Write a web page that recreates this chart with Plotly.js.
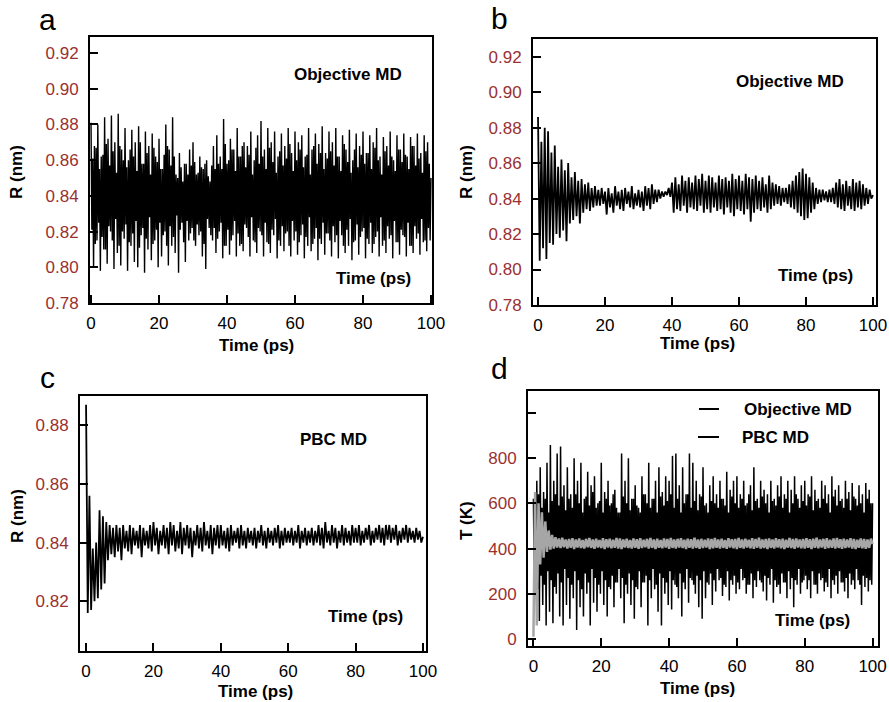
<!DOCTYPE html>
<html>
<head>
<meta charset="utf-8">
<script src="https://cdn.plot.ly/plotly-3.0.1.min.js"></script>
<style>html,body{margin:0;padding:0;background:#fff;}#chart{width:889px;height:702px;}</style>
</head>
<body>
<div id="chart"></div>
<script>
// ---------- DATA ----------
const xTickVals = [0, 20, 40, 60, 80, 100];
const rTickVals = [0.78, 0.80, 0.82, 0.84, 0.86, 0.88, 0.90, 0.92];
const rTickText = ['0.78', '0.80', '0.82', '0.84', '0.86', '0.88', '0.90', '0.92'];
const cTickVals = [0.82, 0.84, 0.86, 0.88];
const cTickText = ['0.82', '0.84', '0.86', '0.88'];
const tTickVals = [0, 200, 400, 600, 800, 1000];
const tTickText = ['0', '200', '400', '600', '800', ''];

// Panel a: Objective MD, R (nm) – samples at t = k, k+0.25, k+0.5, k+0.75 ps
const rA_k = [0.881,0.868,0.880,0.862,0.884,0.872,0.885,0.870,0.886,0.866,
  0.878,0.860,0.877,0.870,0.879,0.858,0.876,0.868,0.875,0.862,
  0.872,0.855,0.880,0.866,0.884,0.852,0.864,0.848,0.858,0.866,
  0.870,0.852,0.862,0.855,0.860,0.848,0.868,0.874,0.862,0.883,
  0.858,0.872,0.866,0.878,0.862,0.870,0.868,0.876,0.860,0.874,
  0.882,0.866,0.878,0.870,0.876,0.862,0.875,0.868,0.878,0.864,
  0.876,0.870,0.874,0.862,0.878,0.866,0.875,0.869,0.879,0.864,
  0.876,0.870,0.878,0.862,0.874,0.866,0.877,0.860,0.875,0.868,
  0.876,0.864,0.874,0.870,0.878,0.862,0.873,0.868,0.876,0.860,
  0.874,0.866,0.875,0.862,0.873,0.868,0.875,0.864,0.874,0.870];
const rA_q1 = [0.821,0.813,0.825,0.817,0.810,0.823,0.815,0.827,0.812,0.820,
  0.824,0.814,0.819,0.826,0.811,0.822,0.816,0.828,0.813,0.821,
  0.825,0.818,0.812,0.823,0.817,0.829,0.821,0.814,0.826,0.819,
  0.815,0.824,0.820,0.813,0.827,0.818,0.822,0.816,0.825,0.812,
  0.821,0.815,0.826,0.819,0.813,0.824,0.817,0.828,0.814,0.822,
  0.818,0.825,0.813,0.821,0.827,0.815,0.823,0.819,0.812,0.826,
  0.820,0.814,0.824,0.817,0.828,0.813,0.822,0.816,0.825,0.819,
  0.815,0.823,0.818,0.826,0.812,0.821,0.827,0.814,0.824,0.817,
  0.822,0.816,0.825,0.813,0.820,0.828,0.815,0.823,0.818,0.826,
  0.814,0.821,0.817,0.825,0.812,0.823,0.819,0.827,0.815,0.822];
const rA_q2 = [0.861,0.867,0.855,0.863,0.869,0.857,0.865,0.853,0.868,0.860,
  0.856,0.866,0.862,0.854,0.870,0.858,0.864,0.852,0.867,0.859,
  0.855,0.863,0.868,0.857,0.862,0.850,0.856,0.858,0.852,0.857,
  0.859,0.853,0.856,0.858,0.851,0.857,0.855,0.858,0.855,0.869,
  0.860,0.866,0.854,0.862,0.868,0.856,0.863,0.852,0.867,0.858,
  0.862,0.855,0.867,0.859,0.853,0.865,0.857,0.861,0.869,0.854,
  0.860,0.866,0.856,0.863,0.852,0.868,0.858,0.864,0.855,0.861,
  0.865,0.857,0.862,0.854,0.869,0.859,0.853,0.866,0.856,0.863,
  0.858,0.864,0.855,0.867,0.860,0.852,0.865,0.857,0.862,0.854,
  0.866,0.859,0.863,0.855,0.868,0.857,0.861,0.853,0.865,0.858];
const rA_q3 = [0.800,0.815,0.798,0.810,0.802,0.820,0.799,0.808,0.801,0.816,
  0.798,0.812,0.803,0.800,0.818,0.797,0.810,0.804,0.815,0.800,
  0.806,0.820,0.801,0.812,0.808,0.797,0.825,0.803,0.815,0.822,
  0.812,0.818,0.806,0.799,0.822,0.815,0.808,0.820,0.805,0.812,
  0.807,0.818,0.806,0.812,0.809,0.822,0.806,0.815,0.808,0.820,
  0.806,0.814,0.808,0.818,0.805,0.812,0.809,0.820,0.806,0.815,
  0.807,0.818,0.805,0.812,0.809,0.816,0.804,0.813,0.807,0.819,
  0.806,0.814,0.805,0.818,0.808,0.812,0.804,0.815,0.807,0.820,
  0.805,0.813,0.808,0.817,0.806,0.812,0.808,0.816,0.805,0.814,
  0.807,0.818,0.806,0.812,0.808,0.816,0.807,0.814,0.809,0.815];
const rA_end = 0.850;

// Panel b: Objective MD (damped), R (nm) – samples at t = k and k+0.5 ps
const rB_k = [0.886,0.872,0.880,0.878,0.866,0.870,0.858,0.862,0.856,0.860,
  0.852,0.855,0.850,0.851,0.848,0.849,0.846,0.847,0.845,0.846,
  0.844,0.846,0.843,0.847,0.844,0.845,0.846,0.844,0.847,0.843,
  0.845,0.844,0.847,0.846,0.848,0.845,0.845,0.844,0.844,0.846,
  0.849,0.852,0.848,0.853,0.850,0.852,0.849,0.853,0.851,0.854,
  0.850,0.853,0.852,0.849,0.853,0.851,0.852,0.850,0.854,0.851,
  0.853,0.850,0.854,0.852,0.851,0.853,0.850,0.852,0.848,0.853,
  0.849,0.848,0.847,0.846,0.846,0.848,0.850,0.853,0.855,0.857,
  0.854,0.852,0.849,0.846,0.845,0.845,0.844,0.845,0.846,0.849,
  0.851,0.848,0.850,0.847,0.851,0.849,0.850,0.848,0.846,0.845];
const rB_h = [0.805,0.812,0.806,0.815,0.814,0.820,0.818,0.822,0.816,0.826,
  0.828,0.830,0.826,0.832,0.834,0.833,0.835,0.836,0.836,0.837,
  0.831,0.835,0.832,0.836,0.834,0.833,0.837,0.835,0.834,0.836,
  0.835,0.833,0.836,0.834,0.837,0.838,0.840,0.841,0.842,0.841,
  0.832,0.834,0.833,0.836,0.832,0.835,0.834,0.833,0.836,0.832,
  0.834,0.832,0.835,0.833,0.834,0.831,0.835,0.832,0.830,0.834,
  0.833,0.831,0.834,0.827,0.832,0.834,0.833,0.835,0.832,0.834,
  0.836,0.837,0.836,0.838,0.837,0.835,0.834,0.832,0.830,0.828,
  0.829,0.832,0.834,0.837,0.838,0.839,0.838,0.838,0.837,0.835,
  0.834,0.833,0.836,0.834,0.833,0.835,0.834,0.836,0.837,0.840];
const rB_end = 0.842;

// Panel c: PBC MD, R (nm) – samples at t = k and k+0.5 ps
const rC_k = [0.887,0.856,0.838,0.840,0.851,0.849,0.847,0.846,0.845,0.846,
  0.845,0.846,0.844,0.846,0.845,0.844,0.846,0.845,0.844,0.846,
  0.847,0.845,0.844,0.846,0.845,0.847,0.846,0.844,0.847,0.845,
  0.846,0.845,0.844,0.846,0.845,0.847,0.844,0.846,0.845,0.846,
  0.846,0.844,0.845,0.846,0.844,0.845,0.846,0.844,0.845,0.844,
  0.845,0.844,0.846,0.844,0.845,0.844,0.845,0.846,0.844,0.845,
  0.844,0.845,0.844,0.846,0.844,0.845,0.844,0.845,0.844,0.846,
  0.845,0.847,0.844,0.846,0.845,0.844,0.846,0.845,0.844,0.846,
  0.845,0.846,0.844,0.845,0.846,0.844,0.845,0.846,0.845,0.846,
  0.846,0.845,0.846,0.844,0.845,0.846,0.845,0.844,0.845,0.844];
const rC_h = [0.816,0.817,0.820,0.821,0.824,0.826,0.834,0.836,0.835,0.837,
  0.834,0.838,0.837,0.836,0.839,0.838,0.835,0.839,0.838,0.837,
  0.839,0.836,0.839,0.838,0.836,0.839,0.837,0.838,0.836,0.839,
  0.838,0.835,0.839,0.838,0.837,0.839,0.838,0.836,0.839,0.838,
  0.839,0.838,0.837,0.839,0.840,0.838,0.839,0.838,0.840,0.839,
  0.838,0.840,0.839,0.838,0.840,0.839,0.840,0.838,0.839,0.840,
  0.840,0.839,0.840,0.838,0.840,0.839,0.840,0.839,0.840,0.839,
  0.838,0.840,0.839,0.840,0.838,0.840,0.839,0.840,0.839,0.840,
  0.840,0.839,0.840,0.841,0.839,0.840,0.841,0.840,0.839,0.841,
  0.840,0.841,0.839,0.840,0.841,0.840,0.841,0.840,0.841,0.840];
const rC_end = 0.842;

// Panel d: T (K), Objective MD (black) – samples at t = k, k+0.25, k+0.5, k+0.75 ps
const tObj_k = [620,700,760,650,780,858,700,820,852,680,
  760,640,800,700,780,620,740,680,720,600,
  780,650,700,600,660,560,820,700,800,620,
  680,580,720,640,780,620,700,760,650,720,
  700,810,820,680,760,640,820,780,700,640,
  760,600,680,720,640,700,620,740,660,700,
  720,640,700,600,680,760,620,700,660,640,
  700,620,680,720,640,700,660,720,620,680,
  700,640,720,660,620,700,680,640,720,660,
  680,620,700,650,690,620,680,640,690,660];
const tObj_q1 = [260,220,280,240,300,260,230,290,250,310,
  270,240,300,260,220,290,250,310,270,240,
  300,260,230,280,250,310,270,240,290,260,
  230,300,250,280,260,310,240,290,270,250,
  300,260,230,290,250,310,270,240,280,260,
  300,250,290,260,310,270,240,300,260,280,
  250,310,270,240,290,260,300,250,280,270,
  310,260,240,290,250,300,270,260,310,250,
  280,260,300,240,290,270,250,310,260,280,
  300,250,270,290,260,310,240,280,270,260];
const tObj_q2 = [600,640,580,620,560,610,640,590,630,570,
  620,580,640,600,560,630,590,650,580,610,
  560,620,590,640,580,560,630,600,570,620,
  590,560,640,600,580,620,560,630,590,610,
  640,580,620,560,600,640,580,610,570,630,
  590,560,610,600,580,620,590,560,630,600,
  580,620,590,640,570,610,580,630,600,560,
  610,590,630,580,620,560,600,640,580,610,
  590,630,570,610,580,620,600,560,630,590,
  610,580,620,570,630,590,600,560,620,600];
const tObj_q3 = [200,80,150,60,120,70,200,100,60,150,
  90,180,40,140,100,200,60,160,120,200,
  150,100,220,140,250,180,70,200,150,90,
  220,140,250,60,180,220,120,60,200,150,
  130,240,180,100,220,160,260,200,140,90,
  180,240,150,210,260,190,230,170,240,200,
  220,260,200,240,180,230,260,210,170,240,
  160,230,200,250,180,220,140,240,200,260,
  220,180,240,200,260,210,230,180,240,200,
  250,210,180,240,220,260,150,230,210,240];
const tObj_end = 600;

// Panel d: T (K), PBC MD (grey) – samples at t = k and k+0.5 ps
const tPbc_k = [10,60,330,360,385,395,400,405,402,406,
  400,404,398,405,402,400,406,403,399,405,
  402,398,405,401,404,400,398,405,402,400,
  404,399,402,406,400,403,398,404,401,405,
  399,403,400,405,402,398,404,400,403,399,
  402,405,398,401,404,400,403,399,405,401,
  398,403,400,405,401,399,404,400,402,398,
  403,400,405,401,398,404,402,399,405,401,
  400,404,398,403,401,405,399,402,404,400,
  403,399,402,405,400,398,404,401,399,403];
const tPbc_h = [650,600,560,520,480,460,450,445,448,440,
  442,446,440,445,438,443,447,440,444,438,
  446,441,444,439,447,445,440,443,438,445,
  441,446,439,443,447,440,444,438,445,442,
  447,440,443,446,439,444,441,448,440,443,
  439,445,442,447,440,444,438,446,441,443,
  447,440,444,439,446,442,448,440,443,445,
  440,446,441,444,439,447,442,445,440,443,
  446,441,444,448,440,443,446,439,445,447,
  441,444,440,446,442,439,445,443,440,444];
const tPbc_end = 420;

// ---------- BUILD ----------
// interleave the per-ps sample arrays into one time series (1 ps per group)
function series(groups, last) {
  const n = groups.length, y = [];
  for (let k = 0; k < groups[0].length; k++) { for (const g of groups) y.push(g[k]); }
  y.push(last);
  const x = y.map((_, i) => i / n);
  return {x, y};
}
const sA = series([rA_k, rA_q1, rA_q2, rA_q3], rA_end);
const sB = series([rB_k, rB_h], rB_end);
const sC = series([rC_k, rC_h], rC_end);
const sDo = series([tObj_k, tObj_q1, tObj_q2, tObj_q3], tObj_end);
const sDp = series([tPbc_k, tPbc_h], tPbc_end);

const W = 889, H = 702;
const FONT = 'Liberation Sans, Arial, Helvetica, sans-serif';
const RED = '#9a3030';

const traces = [
  {x: sA.x, y: sA.y, xaxis: 'x', yaxis: 'y', type: 'scatter', mode: 'lines', line: {color: '#000', width: 1.4}, name: 'Objective MD'},
  {x: sB.x, y: sB.y, xaxis: 'x2', yaxis: 'y2', type: 'scatter', mode: 'lines', line: {color: '#000', width: 1.8}, name: 'Objective MD'},
  {x: sC.x, y: sC.y, xaxis: 'x3', yaxis: 'y3', type: 'scatter', mode: 'lines', line: {color: '#000', width: 1.8}, name: 'PBC MD'},
  {x: sDo.x, y: sDo.y, xaxis: 'x4', yaxis: 'y4', type: 'scatter', mode: 'lines', line: {color: '#000', width: 1.5}, name: 'Objective MD'},
  {x: sDp.x, y: sDp.y, xaxis: 'x4', yaxis: 'y4', type: 'scatter', mode: 'lines', line: {color: '#a6a6a6', width: 2.5}, name: 'PBC MD'}
];

function xAx(dom, range, anchor) {
  return {domain: dom, range: range, anchor: anchor, tickvals: xTickVals, ticktext: xTickVals.map(String),
    ticks: 'inside', ticklen: 8, tickwidth: 2, tickcolor: '#000', showline: true, mirror: true,
    linecolor: '#000', linewidth: 2, showgrid: false, zeroline: false,
    tickfont: {family: FONT, size: 17, color: '#000'}, ticklabelstandoff: 4};
}
function yAx(dom, range, anchor, vals, text) {
  return {domain: dom, range: range, anchor: anchor, tickvals: vals, ticktext: text,
    ticks: 'inside', ticklen: 8, tickwidth: 2, tickcolor: '#000', showline: true, mirror: true,
    linecolor: '#000', linewidth: 2, showgrid: false, zeroline: false,
    tickfont: {family: FONT, size: 17, color: RED}, ticklabelstandoff: 6};
}
const fx = p => p / W;
const fy = p => 1 - p / H;

const layout = {
  width: W, height: H, margin: {l: 0, r: 0, t: 0, b: 0},
  paper_bgcolor: '#fff', plot_bgcolor: '#fff', showlegend: false,
  xaxis:  xAx([fx(90), fx(432)], [-0.3, 100.3], 'y'),
  yaxis:  yAx([fy(303), fy(37)], [0.78, 0.929], 'x', rTickVals, rTickText),
  xaxis2: xAx([fx(533), fx(876)], [-1.5, 100.9], 'y2'),
  yaxis2: yAx([fy(305), fy(39)], [0.78, 0.93], 'x2', rTickVals, rTickText),
  xaxis3: xAx([fx(80), fx(426)], [-1.8, 100.9], 'y3'),
  yaxis3: yAx([fy(651), fy(396)], [0.803, 0.890], 'x3', cTickVals, cTickText),
  xaxis4: xAx([fx(528), fx(878)], [-1.6, 101.6], 'y4'),
  yaxis4: yAx([fy(646), fy(391)], [-31, 1097], 'x4', tTickVals, tTickText),
  annotations: [],
  shapes: []
};

function ann(text, px, py, size, bold, rot) {
  layout.annotations.push({xref: 'paper', yref: 'paper', x: fx(px), y: fy(py), xanchor: 'center', yanchor: 'middle',
    text: bold ? '<b>' + text + '</b>' : text, showarrow: false, textangle: rot || 0,
    font: {family: FONT, size: size, color: '#000'}});
}
// panel letters
ann('a', 47, 20, 30, false); ann('b', 499, 18, 30, false);
ann('c', 47, 377, 30, false); ann('d', 499, 368, 30, false);
// y titles
ann('R (nm)', 17, 172, 17, true, -90); ann('R (nm)', 467, 172, 17, true, -90);
ann('R (nm)', 17, 516, 17, true, -90); ann('T (K)', 466, 521, 17, true, -90);
// x titles
ann('Time (ps)', 256, 345, 17, true); ann('Time (ps)', 697, 343, 17, true);
ann('Time (ps)', 255, 691, 17, true); ann('Time (ps)', 697, 688, 17, true);
// in-plot labels
ann('Objective MD', 348, 75, 17, true); ann('Time (ps)', 373, 278, 17, true);
ann('Objective MD', 790, 81, 17, true); ann('Time (ps)', 815, 275, 17, true);
ann('PBC MD', 333, 440, 17, true); ann('Time (ps)', 365, 616, 17, true);
ann('Time (ps)', 812, 620, 17, true);
// legend of panel d
ann('Objective MD', 798, 409, 17, true); ann('PBC MD', 775, 437, 17, true);
layout.shapes.push({type: 'line', xref: 'paper', yref: 'paper', x0: fx(699), x1: fx(719), y0: fy(409), y1: fy(409), line: {color: '#000', width: 2}});
layout.shapes.push({type: 'line', xref: 'paper', yref: 'paper', x0: fx(698), x1: fx(719), y0: fy(437), y1: fy(437), line: {color: '#000', width: 2}});

Plotly.newPlot('chart', traces, layout, {staticPlot: true, displayModeBar: false});
</script>
</body>
</html>
